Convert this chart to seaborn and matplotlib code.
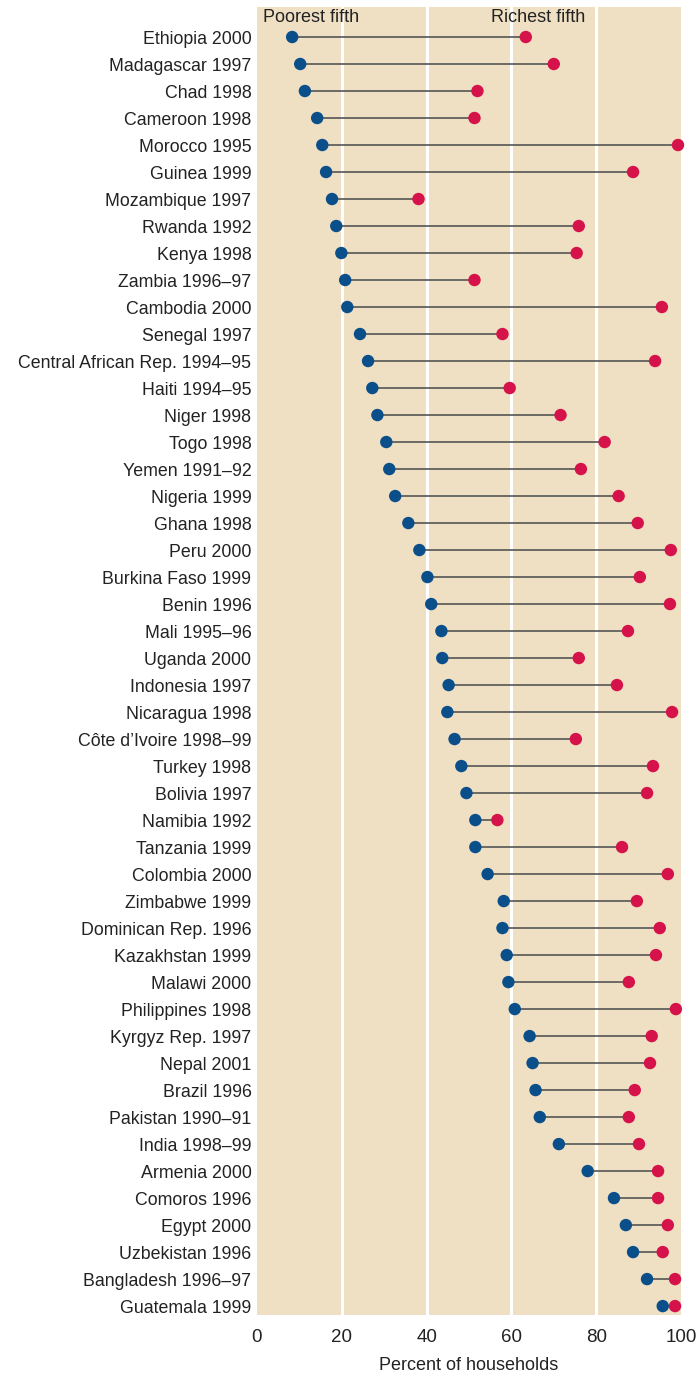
import matplotlib
matplotlib.use("Agg")
import matplotlib.pyplot as plt
import seaborn as sns
import pandas as pd

countries = ["Ethiopia 2000", "Madagascar 1997", "Chad 1998", "Cameroon 1998", "Morocco 1995",
             "Guinea 1999", "Mozambique 1997", "Rwanda 1992", "Kenya 1998", "Zambia 1996\u201397",
             "Cambodia 2000", "Senegal 1997", "Central African Rep. 1994\u201395", "Haiti 1994\u201395",
             "Niger 1998", "Togo 1998", "Yemen 1991\u201392", "Nigeria 1999", "Ghana 1998", "Peru 2000",
             "Burkina Faso 1999", "Benin 1996", "Mali 1995\u201396", "Uganda 2000", "Indonesia 1997",
             "Nicaragua 1998", "C\u00f4te d\u2019Ivoire 1998\u201399", "Turkey 1998", "Bolivia 1997",
             "Namibia 1992", "Tanzania 1999", "Colombia 2000", "Zimbabwe 1999", "Dominican Rep. 1996",
             "Kazakhstan 1999", "Malawi 2000", "Philippines 1998", "Kyrgyz Rep. 1997", "Nepal 2001",
             "Brazil 1996", "Pakistan 1990\u201391", "India 1998\u201399", "Armenia 2000", "Comoros 1996",
             "Egypt 2000", "Uzbekistan 1996", "Bangladesh 1996\u201397", "Guatemala 1999"]

poorest = [8.3, 10.2, 11.3, 14.2, 15.4, 16.3, 17.7, 18.7, 19.9, 20.8,
           21.3, 24.3, 26.2, 27.2, 28.4, 30.5, 31.2, 32.6, 35.7, 38.3,
           40.2, 41.1, 43.5, 43.7, 45.2, 44.9, 46.6, 48.2, 49.4, 51.5,
           51.5, 54.4, 58.2, 57.9, 58.9, 59.3, 60.8, 64.3, 65.0, 65.7,
           66.7, 71.2, 78.0, 84.2, 87.0, 88.7, 92.0, 95.7]

richest = [63.4, 70.0, 52.0, 51.3, 99.3, 88.7, 38.1, 75.9, 75.4, 51.3,
           95.5, 57.9, 93.9, 59.6, 71.6, 82.0, 76.4, 85.3, 89.8, 97.6,
           90.3, 97.4, 87.5, 75.9, 84.9, 97.9, 75.2, 93.4, 92.0, 56.7,
           86.1, 96.9, 89.6, 95.0, 94.1, 87.7, 98.8, 93.1, 92.7, 89.1,
           87.7, 90.1, 94.6, 94.6, 96.9, 95.7, 98.6, 98.6]

xticks = [0, 20, 40, 60, 80, 100]

sns.set_theme(style="white")
plt.rcParams['font.family'] = ['Liberation Sans', 'DejaVu Sans']

df = pd.DataFrame({"country": countries, "Poorest fifth": poorest, "Richest fifth": richest})
df["y"] = range(len(df))
long = df.melt(id_vars=["country", "y"], value_vars=["Poorest fifth", "Richest fifth"],
               var_name="group", value_name="pct")

fig = plt.figure(figsize=(6.97, 13.8), dpi=100)
ax = fig.add_axes([0.3687, 0.0471, 0.977 - 0.3687, 0.9949 - 0.0471])
ax.set_facecolor("#EFE0C4")

for v in [20, 40, 60, 80]:
    ax.axvline(v, color="white", lw=2.2, zorder=1)

ax.hlines(df["y"], df["Poorest fifth"], df["Richest fifth"], color="#555555", lw=1.2, zorder=2)
sns.scatterplot(data=long, x="pct", y="y", hue="group",
                palette={"Poorest fifth": "#0B4F8A", "Richest fifth": "#D5124A"},
                s=80, linewidth=0, ax=ax, zorder=3, legend=False, clip_on=False)

ax.set_xlim(0, 100)
ax.set_ylim(len(df) - 1 + 0.33, -1.11)
ax.set_yticks(df["y"])
ax.set_yticklabels(countries, fontsize=12.8, color="#222222")
ax.set_xticks(xticks)
ax.set_xticklabels([str(t) for t in xticks], fontsize=13.5, color="#222222")
ax.tick_params(axis="both", length=0, pad=4)
ax.tick_params(axis="x", pad=10)
ax.set_xlabel("Percent of households", fontsize=13, color="#222222", labelpad=8)
ax.set_ylabel("")
for s in ax.spines.values():
    s.set_visible(False)

ax.text(1.5, -0.72, "Poorest fifth", fontsize=13, color="#222222", ha="left", va="center")
ax.text(77.5, -0.72, "Richest fifth", fontsize=13, color="#222222", ha="right", va="center")

fig.savefig("out.png", dpi=100)
